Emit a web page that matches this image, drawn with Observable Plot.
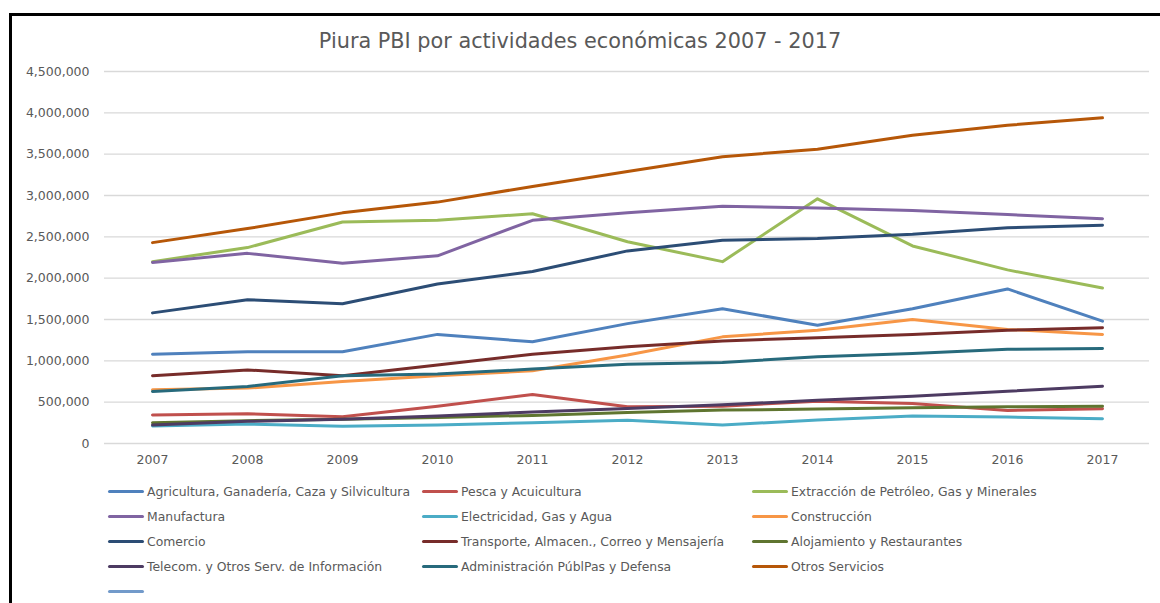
<!DOCTYPE html>
<html>
<head>
<meta charset="utf-8">
<script src="https://cdn.jsdelivr.net/npm/d3@7"></script>
<script src="https://cdn.jsdelivr.net/npm/@observablehq/plot@0.6"></script>
<style>
  html, body { margin: 0; padding: 0; background: #fff; overflow: hidden; }
  body { width: 1160px; height: 603px; position: relative; font-family: "DejaVu Sans", sans-serif; }
  #frame { position: absolute; left: 9px; top: 13px; width: 1200px; height: 700px; border: 3px solid #000; box-sizing: border-box; }
  #title { position: absolute; left: 0; width: 1160px; top: 29px; text-align: center; font-size: 20.8px; color: #595959; }
  #chart { position: absolute; left: 0; top: 55px; }
  #legend { position: absolute; left: 108px; top: 479px; display: grid; grid-template-columns: 314px 330px 380px; grid-auto-rows: 25px; font-size: 12.4px; color: #595959; }
  .item { display: flex; align-items: center; white-space: nowrap; }
  .sw { width: 36px; height: 3.5px; border-radius: 2px; margin-right: 3px; flex: none; }
</style>
</head>
<body>
<div id="frame"></div>
<div id="title">Piura PBI por actividades económicas 2007 - 2017</div>
<div id="chart"></div>
<div id="legend"></div>
<script>
const years = ["2007","2008","2009","2010","2011","2012","2013","2014","2015","2016","2017"];
const yTicks = [0, 500000, 1000000, 1500000, 2000000, 2500000, 3000000, 3500000, 4000000, 4500000];

const agricultura   = [1080000, 1110000, 1110000, 1320000, 1230000, 1450000, 1630000, 1430000, 1630000, 1870000, 1480000];
const pesca         = [ 344000,  360000,  324000,  452000,  592000,  444000,  452000,  512000,  484000,  400000,  420000];
const extraccion    = [2200000, 2370000, 2680000, 2700000, 2780000, 2440000, 2200000, 2960000, 2390000, 2100000, 1880000];
const manufactura   = [2190000, 2300000, 2180000, 2270000, 2700000, 2790000, 2870000, 2850000, 2820000, 2770000, 2720000];
const electricidad  = [ 212000,  236000,  208000,  224000,  252000,  280000,  224000,  284000,  332000,  320000,  300000];
const construccion  = [ 650000,  670000,  750000,  820000,  880000, 1070000, 1290000, 1370000, 1500000, 1380000, 1320000];
const comercio      = [1580000, 1740000, 1690000, 1930000, 2080000, 2330000, 2460000, 2480000, 2530000, 2610000, 2640000];
const transporte    = [ 820000,  890000,  820000,  950000, 1080000, 1170000, 1240000, 1280000, 1320000, 1370000, 1400000];
const alojamiento   = [ 252000,  276000,  292000,  316000,  340000,  376000,  404000,  416000,  432000,  444000,  452000];
const telecom       = [ 224000,  268000,  292000,  332000,  380000,  424000,  468000,  524000,  572000,  632000,  692000];
const administracion= [ 630000,  690000,  820000,  840000,  900000,  960000,  980000, 1050000, 1090000, 1140000, 1150000];
const otros         = [2430000, 2600000, 2790000, 2920000, 3110000, 3290000, 3470000, 3560000, 3730000, 3850000, 3940000];

const seriesNames = [
  "Agricultura, Ganadería, Caza y Silvicultura",
  "Pesca y Acuicultura",
  "Extracción de Petróleo, Gas y Minerales",
  "Manufactura",
  "Electricidad, Gas y Agua",
  "Construcción",
  "Comercio",
  "Transporte, Almacen., Correo y Mensajería",
  "Alojamiento y Restaurantes",
  "Telecom. y Otros Serv. de Información",
  "Administración PúblPas y Defensa",
  "Otros Servicios",
  ""
];
const seriesValues = [agricultura, pesca, extraccion, manufactura, electricidad, construccion,
  comercio, transporte, alojamiento, telecom, administracion, otros, null];
const seriesColors = ["#4F81BD", "#C0504D", "#9BBB59", "#8064A2", "#4BACC6", "#F79646",
  "#2C4D75", "#772C2A", "#5F7530", "#4D3B62", "#276A7C", "#B65708", "#729ACA"];

const rows = [];
seriesNames.forEach((name, k) => {
  const vals = seriesValues[k];
  if (!vals) return;
  years.forEach((yr, i) => rows.push({ year: yr, value: vals[i], series: name }));
});

const chart = Plot.plot({
  width: 1160,
  height: 420,
  marginLeft: 104,
  marginRight: 11,
  marginTop: 16,
  marginBottom: 32,
  style: { fontFamily: "DejaVu Sans, sans-serif", fontSize: "12.5px", color: "#595959", background: "transparent" },
  x: { type: "point", domain: years, padding: 0.5, label: null },
  y: { domain: [0, 4500000], label: null },
  color: { domain: seriesNames, range: seriesColors },
  marks: [
    Plot.gridY(yTicks, { stroke: "#d9d9d9", strokeOpacity: 1, strokeWidth: 1.3 }),
    Plot.axisY(yTicks, { tickSize: 0, tickPadding: 15, tickFormat: d3.format(","), fill: "#595959", fontSize: 12.5 }),
    Plot.axisX({ tickSize: 0, tickPadding: 12, fill: "#595959", fontSize: 12.5 }),
    Plot.line(rows, { x: "year", y: "value", z: "series", stroke: "series", strokeWidth: 3, strokeLinejoin: "round", strokeLinecap: "round" })
  ]
});
document.getElementById("chart").appendChild(chart);

const legend = document.getElementById("legend");
seriesNames.forEach((name, k) => {
  const item = document.createElement("div");
  item.className = "item";
  const sw = document.createElement("span");
  sw.className = "sw";
  sw.style.background = seriesColors[k];
  const label = document.createElement("span");
  label.textContent = name;
  item.appendChild(sw);
  item.appendChild(label);
  legend.appendChild(item);
});
</script>
</body>
</html>
